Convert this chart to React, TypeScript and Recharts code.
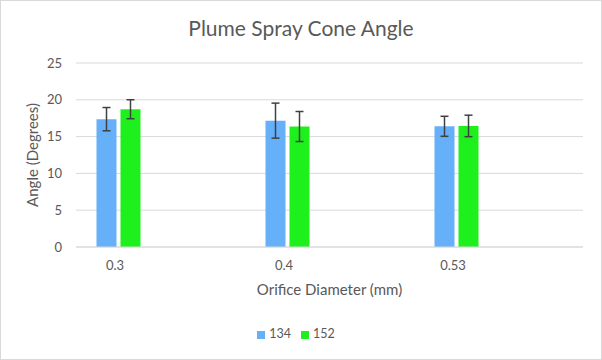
import React from 'react';
import { BarChart, Bar, XAxis, YAxis, CartesianGrid, ErrorBar, Legend } from 'recharts';

const categories = ['0.3', '0.4', '0.53'];
const series134 = [17.37, 17.17, 16.4];
const series152 = [18.72, 16.37, 16.45];
const err134 = [1.58, 2.38, 1.36];
const err152 = [1.29, 2.04, 1.46];
const yTicks = [0, 5, 10, 15, 20, 25];

const data = categories.map((c, i) => ({
  name: c,
  s134: series134[i],
  s152: series152[i],
  e134: err134[i],
  e152: err152[i],
}));

const FONT = 'Lato, "Open Sans", sans-serif';
const GREY = '#595959';

export default function App() {
  return (
    <div style={{ position: 'absolute', left: 0, top: 0, width: 602, height: 360, background: '#fff', fontFamily: FONT }}>
      <div
        style={{
          position: 'absolute',
          left: 0,
          top: 15,
          width: 602,
          textAlign: 'center',
          fontSize: 21,
          color: GREY,
          fontFamily: FONT,
        }}
      >
        Plume Spray Cone Angle
      </div>
      <BarChart
        width={602}
        height={360}
        data={data}
        margin={{ top: 63, right: 19, left: 0, bottom: 0 }}
        barSize={20}
        barGap={4}
      >
        <CartesianGrid horizontal vertical={false} stroke="#d9d9d9" strokeWidth={1} />
        <XAxis
          dataKey="name"
          height={113}
          padding={{ left: -42.5, right: 42.5 }}
          axisLine={{ stroke: '#d9d9d9' }}
          tickLine={false}
          tickMargin={8}
          tick={{ fill: GREY, fontSize: 13, fontFamily: FONT, dx: -3 }}
          label={{ value: 'Orifice Diameter (mm)', position: 'insideTop', offset: 37, fill: GREY, fontSize: 15, fontFamily: FONT }}
        />
        <YAxis
          width={76}
          domain={[0, 25]}
          ticks={yTicks}
          axisLine={false}
          tickLine={false}
          tickMargin={8}
          tick={{ fill: GREY, fontSize: 13, fontFamily: FONT }}
          label={{ value: 'Angle (Degrees)', angle: -90, position: 'insideLeft', offset: 33, fill: GREY, fontSize: 15, fontFamily: FONT, style: { textAnchor: 'middle' } }}
        />
        <Legend
          verticalAlign="middle"
          align="center"
          iconType="square"
          iconSize={8}
          wrapperStyle={{ top: 326, left: 0, width: 602, fontSize: 12.5, fontFamily: FONT }}
          formatter={(v: string) => <span style={{ color: GREY }}>{v}</span>}
        />
        <Bar dataKey="s134" name="134" fill="#66B0FA" isAnimationActive={false}>
          <ErrorBar dataKey="e134" width={4} stroke="#404040" strokeWidth={1.5} />
        </Bar>
        <Bar dataKey="s152" name="152" fill="#1EF01E" isAnimationActive={false}>
          <ErrorBar dataKey="e152" width={4} stroke="#404040" strokeWidth={1.5} />
        </Bar>
      </BarChart>
      <div
        style={{
          position: 'absolute',
          left: 0,
          top: 0,
          width: 602,
          height: 360,
          boxSizing: 'border-box',
          border: '1px solid #d9d9d9',
          pointerEvents: 'none',
        }}
      />
    </div>
  );
}
